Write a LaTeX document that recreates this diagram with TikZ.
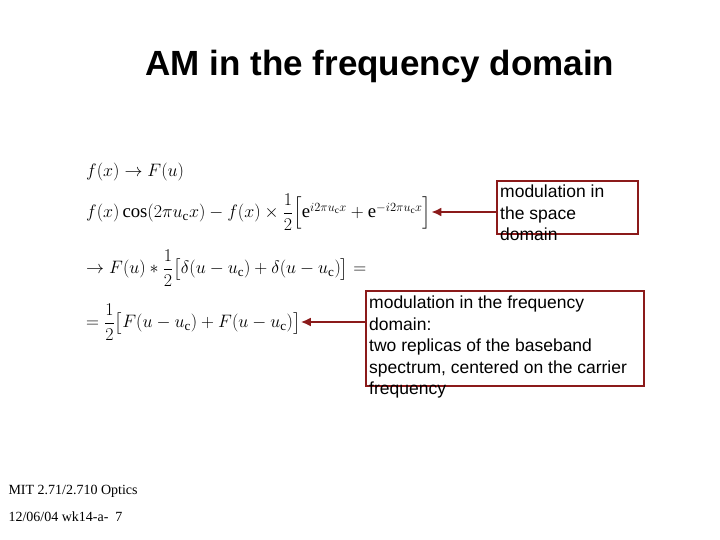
\documentclass[tikz,border=0pt]{standalone}
\usepackage{fontspec}
\setmainfont{Liberation Serif}
\newfontfamily\arial{Liberation Sans}
\usepackage{amsmath}
\usetikzlibrary{arrows.meta}
\definecolor{dred}{HTML}{8B1A1A}
\begin{document}
\begin{tikzpicture}[x=1pt,y=-1pt,
  box/.style={draw=dred,line width=2.5pt},
  note/.style={anchor=north west,inner sep=0pt,align=left,font=\arial\fontsize{17.5}{21.5}\selectfont},
  eq/.style={anchor=west,inner sep=0pt,scale=1.04,font=\fontsize{18}{20}\selectfont},
  arr/.style={dred,line width=2.5pt,-{Latex[length=10pt,width=9pt]}}]
\useasboundingbox (0,0) rectangle (720,540);
\node[font=\arial\bfseries\fontsize{35}{40}\selectfont] (t) at (380,66) {AM in the frequency domain};
\node[eq] (e1) at (86,172) {$f(x)\to F(u)$};
\node[eq] (e2) at (86,212) {$f(x)\cos(2\pi u_{\mathrm c}x)-f(x)\times\dfrac12\Big[\mathrm e^{i2\pi u_{\mathrm c}x}+\mathrm e^{-i2\pi u_{\mathrm c}x}\Big]$};
\node[eq] (e3) at (86,268) {$\to F(u)*\dfrac12\big[\delta(u-u_{\mathrm c})+\delta(u-u_{\mathrm c})\big]=$};
\node[eq] (e4) at (86,322) {$=\dfrac12\big[F(u-u_{\mathrm c})+F(u-u_{\mathrm c})\big]$};
\draw[box] (497,181) coordinate (b1) rectangle (638,234);
\draw[box] (366,291) coordinate (b2) rectangle (644,386);
\node[note] (n1) at (500,185) {modulation in\\the space\\domain};
\node[note] (n2) at (369,296) {modulation in the frequency\\domain:\\two replicas of the baseband\\spectrum, centered on the carrier\\frequency};
\draw[arr] (b1 |- e2.east) -- (e2.east);
\draw[arr] (b2 |- e4.east) -- (e4.east);
\node[anchor=west,font=\fontsize{14}{15}\selectfont] (f1) at (5,491) {MIT 2.71/2.710 Optics};
\node[anchor=west,font=\fontsize{14}{15}\selectfont] (f2) at (5,517) {12/06/04 wk14-a-\ \ 7};
\end{tikzpicture}
\end{document}
